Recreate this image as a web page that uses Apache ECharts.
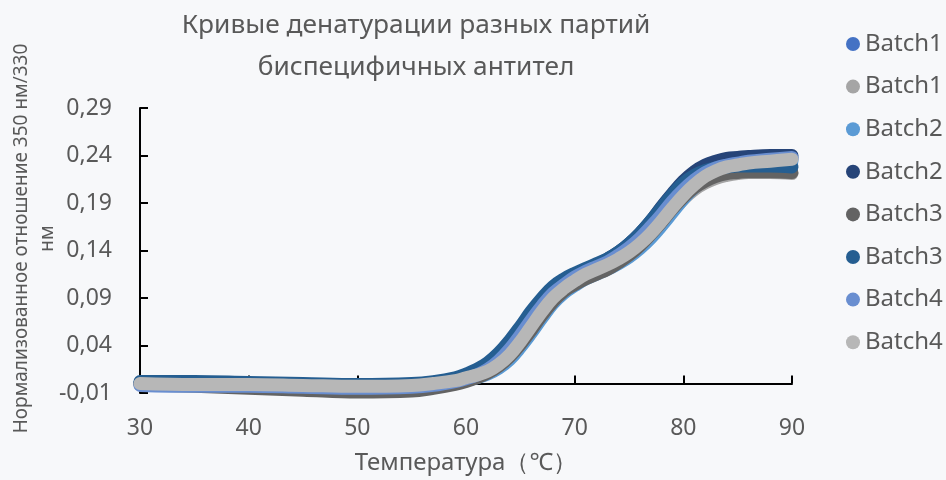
<!DOCTYPE html>
<html>
<head>
<meta charset="utf-8">
<script src="https://cdn.jsdelivr.net/npm/echarts@6/dist/echarts.min.js"></script>
<style>
html,body{margin:0;padding:0;background:#f7f8fa;}
#c{width:946px;height:480px;}
</style>
</head>
<body>
<div id="c"></div>
<script>
const titleText = 'Кривые денатурации разных партий\nбиспецифичных антител';
const xName = 'Температура（℃）';
const yName = 'Нормализованное отношение 350 нм/330\nнм';
const yTicks = [-0.01, 0.04, 0.09, 0.14, 0.19, 0.24, 0.29];
const xTicks = [30, 40, 50, 60, 70, 80, 90];

const temps = [30,35,40,45,50,55,57,59,60,61,62,63,64,65,66,67,68,69,70,71,72,73,74,75,76,77,78,79,80,81,82,83,84,85,86,88,90];

const seriesLabels = ['Batch1','Batch1','Batch2','Batch2','Batch3','Batch3','Batch4','Batch4'];
const seriesColors = ['#4472c4','#a5a5a5','#5b9bd5','#264478','#636363','#255e91','#698ed0','#b7b7b7'];

const batch1a = [0.000,-0.001,-0.002,-0.003,-0.004,-0.003,-0.001,0.003,0.006,0.010,0.016,0.024,0.035,0.049,0.065,0.080,0.093,0.103,0.110,0.116,0.121,0.127,0.134,0.142,0.152,0.164,0.177,0.191,0.203,0.213,0.221,0.226,0.229,0.231,0.233,0.235,0.237];
const batch1b = [-0.001,-0.002,-0.003,-0.004,-0.006,-0.005,-0.003,0.001,0.004,0.008,0.012,0.019,0.029,0.042,0.058,0.074,0.088,0.098,0.106,0.112,0.117,0.122,0.128,0.136,0.145,0.156,0.169,0.182,0.194,0.204,0.211,0.216,0.219,0.221,0.222,0.222,0.221];
const batch2a = [0.000,-0.001,-0.002,-0.003,-0.004,-0.003,-0.002,0.001,0.003,0.006,0.010,0.016,0.025,0.038,0.053,0.069,0.084,0.095,0.103,0.110,0.115,0.120,0.126,0.133,0.142,0.153,0.166,0.180,0.194,0.206,0.215,0.222,0.226,0.229,0.231,0.233,0.234];
const batch2b = [0.001,0.001,0.000,-0.001,-0.002,-0.001,0.001,0.005,0.008,0.012,0.018,0.027,0.039,0.054,0.070,0.085,0.098,0.107,0.114,0.120,0.125,0.131,0.138,0.147,0.158,0.171,0.186,0.200,0.213,0.223,0.230,0.234,0.237,0.238,0.239,0.240,0.240];
const batch3a = [-0.001,-0.003,-0.005,-0.007,-0.009,-0.008,-0.005,-0.001,0.002,0.006,0.011,0.018,0.028,0.041,0.056,0.072,0.086,0.097,0.104,0.110,0.115,0.120,0.127,0.135,0.145,0.157,0.170,0.184,0.196,0.206,0.213,0.218,0.221,0.222,0.223,0.223,0.222];
const batch3b = [0.002,0.002,0.001,0.000,-0.001,0.000,0.002,0.006,0.010,0.015,0.022,0.032,0.045,0.060,0.076,0.090,0.102,0.110,0.116,0.121,0.126,0.131,0.138,0.147,0.158,0.171,0.185,0.199,0.211,0.219,0.224,0.227,0.228,0.229,0.229,0.229,0.228];
const batch4a = [-0.002,-0.003,-0.003,-0.004,-0.005,-0.004,-0.002,0.002,0.005,0.009,0.015,0.024,0.036,0.051,0.067,0.082,0.095,0.104,0.112,0.118,0.123,0.128,0.135,0.143,0.153,0.165,0.178,0.192,0.204,0.214,0.222,0.227,0.230,0.232,0.234,0.236,0.238];
const batch4b = [0.000,-0.001,-0.001,-0.002,-0.003,-0.002,0.000,0.003,0.006,0.009,0.013,0.020,0.030,0.044,0.060,0.076,0.090,0.100,0.108,0.115,0.120,0.125,0.131,0.138,0.147,0.158,0.171,0.185,0.198,0.209,0.218,0.224,0.228,0.230,0.232,0.234,0.236];

const seriesValues = [batch1a, batch1b, batch2a, batch2b, batch3a, batch3b, batch4a, batch4b];

const textColor = '#595959';
const font = '"Noto Sans", "Open Sans", sans-serif';

const ids = seriesLabels.map((l, i) => l + '#' + i);

const chart = echarts.init(document.getElementById('c'), null, {renderer: 'canvas'});
chart.setOption({
  backgroundColor: '#f7f8fa',
  animation: false,
  textStyle: {fontFamily: font},
  title: {
    text: titleText,
    left: 411,
    top: 0,
    textAlign: 'center',
    textStyle: {fontFamily: font, fontSize: 26.3, fontWeight: 'normal', color: textColor, lineHeight: 42}
  },
  legend: {
    orient: 'vertical',
    left: 841,
    top: 27,
    icon: 'circle',
    itemWidth: 14,
    itemHeight: 14,
    itemGap: 18.6,
    data: ids,
    formatter: name => name.split('#')[0],
    textStyle: {fontFamily: font, fontSize: 24, color: textColor, lineHeight: 24}
  },
  grid: {left: 140, right: 154, top: 108, bottom: 87, outerBoundsMode: 'none', containLabel: false},
  xAxis: {
    type: 'value',
    min: xTicks[0],
    max: xTicks[xTicks.length - 1],
    interval: xTicks[1] - xTicks[0],
    name: xName,
    nameLocation: 'middle',
    nameGap: 58,
    nameMoveOverlap: false,
    nameTextStyle: {fontFamily: font, fontSize: 24, color: textColor},
    axisLine: {onZero: true, lineStyle: {color: '#000', width: 2}},
    axisTick: {inside: true, length: 8, lineStyle: {color: '#000', width: 2}},
    axisLabel: {margin: 24, fontSize: 23, color: textColor, fontFamily: font},
    splitLine: {show: false}
  },
  yAxis: {
    type: 'value',
    min: yTicks[0],
    max: yTicks[yTicks.length - 1],
    interval: 0.05,
    name: yName,
    nameLocation: 'middle',
    nameGap: 79,
    nameMoveOverlap: false,
    nameTextStyle: {fontFamily: font, fontSize: 19, color: textColor, lineHeight: 26, padding: [0, 0, 0, 24]},
    axisLine: {show: true, lineStyle: {color: '#000', width: 2}},
    axisTick: {show: true, inside: true, length: 8, lineStyle: {color: '#000', width: 2}},
    axisLabel: {margin: 28, fontSize: 23, color: textColor, fontFamily: font,
      formatter: v => v.toFixed(2).replace('.', ',')},
    splitLine: {show: false}
  },
  series: seriesValues.map((vals, i) => ({
    name: ids[i],
    type: 'line',
    data: temps.map((t, j) => [t, vals[j]]),
    smooth: 0.4,
    showSymbol: false,
    symbol: 'none',
    color: seriesColors[i],
    lineStyle: {width: 13, color: seriesColors[i], cap: 'round', join: 'round'},
    z: 2 + i
  }))
});
</script>
</body>
</html>
